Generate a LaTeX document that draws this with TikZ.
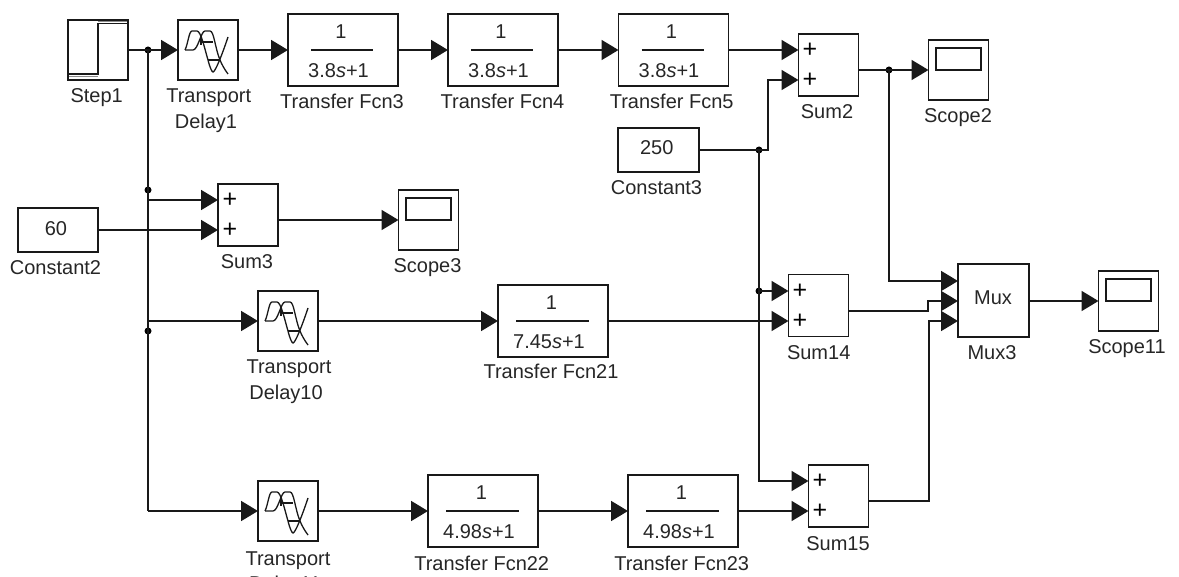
\documentclass[tikz,border=0pt]{standalone}
\usepackage{fontspec}
\setmainfont{Liberation Sans}
\usetikzlibrary{arrows.meta}

\tikzset{
  block/.style={draw,rectangle,inner sep=0pt,outer sep=0pt},
  smallblock/.style={block,minimum width=60pt,minimum height=60pt},
  sumblock/.style={block,minimum width=60pt,minimum height=62pt},
  fcnblock/.style={block,minimum width=110pt,minimum height=72pt},
  constblock/.style={block,minimum width=81pt,minimum height=44pt},
  muxblock/.style={block,minimum width=71pt,minimum height=73pt},
  txt/.style={inner sep=0pt,outer sep=0pt,anchor=base,text=black!85,font=\fontsize{20}{22}\selectfont},
  plusmark/.style={inner sep=0pt,outer sep=0pt,font=\fontsize{25}{25}\selectfont},
  dot/.style={circle,fill,inner sep=0pt,minimum size=7pt},
  sig/.style={-{Triangle[length=17pt,width=20pt]}},
  stepicon/.pic={
    \draw (-30,24)--(0,24)--(0,-26.5)--(30,-26.5);
    \draw[black!45,line width=1pt] (0,-28)--(29,-28);
    \draw[black!45,line width=1pt] (-29,26.5)--(0,26.5);
  },
  scopeicon/.pic={
    \draw (-22.5,-22)rectangle(22.5,0);
  },
  delayicon/.pic={
    \draw[line width=1.3pt] (-23,0) .. controls (-20,-6) and (-19,-19) .. (-16,-19)
      -- (-11,-19) .. controls (-7,-19) and (-3,0) .. (0,10)
      .. controls (2,18) and (4,22) .. (5,22) .. controls (7,22) and (13,8) .. (20,-13);
    \draw[line width=1.3pt] (-23,0) -- (-15,0) .. controls (-10,0) and (-7,-19) .. (-3,-19)
      -- (2,-19) .. controls (6,-19) and (7,-2) .. (12,10) .. controls (14,15) and (17,20) .. (20,24);
    \draw[line width=2.6pt] (-7,-15)--(-7,-5);
    \draw[line width=1.4pt] (-7,-8)--(5,-8);
    \draw[line width=1.4pt] (0,10)--(11,10);
  }
}

\begin{document}
\begin{tikzpicture}[x=1pt,y=-1pt,line width=1.8pt,draw=black!90]
\useasboundingbox (0,0) rectangle (1179,577);

%top row
\node[smallblock] (st) at (98,50) {};
\pic at (st.center) {stepicon};
\node[txt] (stl) at (96.7,103) {Step1};

\node[smallblock] (d1) at (208,50) {};
\pic at (d1.center) {delayicon};
\node[txt] (d1a) at (208.7,103) {Transport};
\node[txt] (d1b) at (206,129) {Delay1};

\node[fcnblock] (f3) at (343,50) {};
\node[txt] (f3n) at (341,39) {1};
\node[txt] (f3d) at (338.5,77.5) {3.8\textit{s}+1};
\draw ([xshift=-32pt]f3.center)--([xshift=30pt]f3.center);
\node[txt] (f3l) at (342,109) {Transfer Fcn3};

\node[fcnblock] (f4) at (503,50) {};
\node[txt] (f4n) at (501,39) {1};
\node[txt] (f4d) at (498.5,77.5) {3.8\textit{s}+1};
\draw ([xshift=-32pt]f4.center)--([xshift=30pt]f4.center);
\node[txt] (f4l) at (502.5,109) {Transfer Fcn4};

\node[fcnblock] (f5) at (673.5,50) {};
\node[txt] (f5n) at (671.5,39) {1};
\node[txt] (f5d) at (669,77.5) {3.8\textit{s}+1};
\draw ([xshift=-32pt]f5.center)--([xshift=30pt]f5.center);
\node[txt] (f5l) at (671.7,109) {Transfer Fcn5};

\node[sumblock] (s2) at (828.5,65) {};
\node[plusmark] (s2p) at (810,50) {+};
\node[plusmark] (s2q) at (810,80) {+};
\node[txt] (s2l) at (827,119) {Sum2};

\node[smallblock] (sc2) at (958.5,70) {};
\pic at (sc2.center) {scopeicon};
\node[txt] (sc2l) at (958,122.7) {Scope2};

\node[constblock] (c3) at (658.5,150) {};
\node[txt] (c3v) at (656.7,155) {250};
\node[txt] (c3l) at (656.5,195) {Constant3};

%middle rows
\node[sumblock] (s3) at (248,215) {};
\node[plusmark] (s3p) at (230,200) {+};
\node[plusmark] (s3q) at (230,230) {+};
\node[txt] (s3l) at (247,269) {Sum3};

\node[constblock,minimum width=80pt] (c2) at (58,230) {};
\node[txt] (c2v) at (56,236) {60};
\node[txt] (c2l) at (55.5,275) {Constant2};

\node[smallblock] (sc3) at (428.5,220) {};
\pic at (sc3.center) {scopeicon};
\node[txt] (sc3l) at (427.5,273) {Scope3};

\node[smallblock] (d10) at (288,321) {};
\pic at (d10.center) {delayicon};
\node[txt] (d10a) at (289,374) {Transport};
\node[txt] (d10b) at (286,400) {Delay10};

\node[fcnblock] (f21) at (553,321) {};
\node[txt] (f21n) at (551.5,310) {1};
\node[txt] (f21d) at (549,348.5) {7.45\textit{s}+1};
\draw ([xshift=-37pt]f21.center)--([xshift=36pt]f21.center);
\node[txt] (f21l) at (551,379) {Transfer Fcn21};

\node[sumblock] (s14) at (818.5,305.5) {};
\node[plusmark] (s14p) at (800,291) {+};
\node[plusmark] (s14q) at (800,321) {+};
\node[txt] (s14l) at (818.7,360) {Sum14};

\node[muxblock] (m3) at (993.5,300.5) {};
\node[txt] (m3t) at (993,305) {Mux};
\node[txt] (m3l) at (992,360) {Mux3};

\node[smallblock] (sc11) at (1128.5,301) {};
\pic at (sc11.center) {scopeicon};
\node[txt] (sc11l) at (1127,354) {Scope11};

%bottom row
\node[smallblock] (d11) at (288,511) {};
\pic at (d11.center) {delayicon};
\node[txt] (d11a) at (288,565) {Transport};
\node[txt] (d11b) at (285,590) {Delay11};

\node[fcnblock] (f22) at (483,511) {};
\node[txt] (f22n) at (481.5,500) {1};
\node[txt] (f22d) at (479,538.5) {4.98\textit{s}+1};
\draw ([xshift=-37pt]f22.center)--([xshift=36pt]f22.center);
\node[txt] (f22l) at (481.7,570.7) {Transfer Fcn22};

\node[fcnblock] (f23) at (683,511) {};
\node[txt] (f23n) at (681.5,500) {1};
\node[txt] (f23d) at (679,538.5) {4.98\textit{s}+1};
\draw ([xshift=-37pt]f23.center)--([xshift=36pt]f23.center);
\node[txt] (f23l) at (681.7,570.7) {Transfer Fcn23};

\node[sumblock] (s15) at (838.5,496) {};
\node[plusmark] (s15p) at (820,481) {+};
\node[plusmark] (s15q) at (820,511) {+};
\node[txt] (s15l) at (838,550) {Sum15};

%junctions
\node[dot] (j1) at (148,50) {};
\node[dot] (j2) at (148,190) {};
\node[dot] (j3) at (148,331) {};
\node[dot] (j4) at (889,70) {};
\node[dot] (j5) at (759,150) {};
\node[dot] (j6) at (759,291) {};

%points on the bus
\coordinate (b1) at (148,200);
\coordinate (b2) at (148,321);
\coordinate (b3) at (148,511);
%ports of the blocks
\coordinate (s2o) at (859,70);
\coordinate (s3o) at (278,220);
\coordinate (s14o) at (849,311);
\coordinate (s15o) at (869,501);
\coordinate (m3a) at (958,281);
\coordinate (m3b) at (958,301);
\coordinate (m3c) at (958,321);
%corners
\coordinate (k1) at (768,80);
\coordinate (k2) at (928,301);
\coordinate (k3) at (929,321);

%connections
\draw[sig] (st.east)--(d1.west);
\draw[sig] (d1.east)--(f3.west);
\draw[sig] (f3.east)--(f4.west);
\draw[sig] (f4.east)--(f5.west);
\draw[sig] (f5.east)--(f5.east-|s2.west);
\draw[sig] (s2o)--(sc2.west);

\draw (j1.center)--(b3);
\draw[sig] (b1)--(b1-|s3.west);
\draw[sig] (c2.east)--(c2.east-|s3.west);
\draw[sig] (s3o)--(sc3.west);
\draw[sig] (b2)--(d10.west);
\draw[sig] (d10.east)--(f21.west);
\draw[sig] (f21.east)--(f21.east-|s14.west);
\draw[sig] (b3)--(d11.west);
\draw[sig] (d11.east)--(f22.west);
\draw[sig] (f22.east)--(f23.west);
\draw[sig] (f23.east)--(f23.east-|s15.west);

\draw[sig] (c3.east)-|(k1)--(s2q-|s2.west);
\draw[sig] (j5.center)|-(s15p-|s15.west);
\draw[sig] (j6.center)--(j6-|s14.west);

\draw[sig] (j4.center)|-(m3a);
\draw[sig] (s14o)-|(k2)--(m3b);
\draw[sig] (s15o)-|(k3)--(m3c);
\draw[sig] (m3.east|-m3b)--(sc11.west);
\end{tikzpicture}
\end{document}
